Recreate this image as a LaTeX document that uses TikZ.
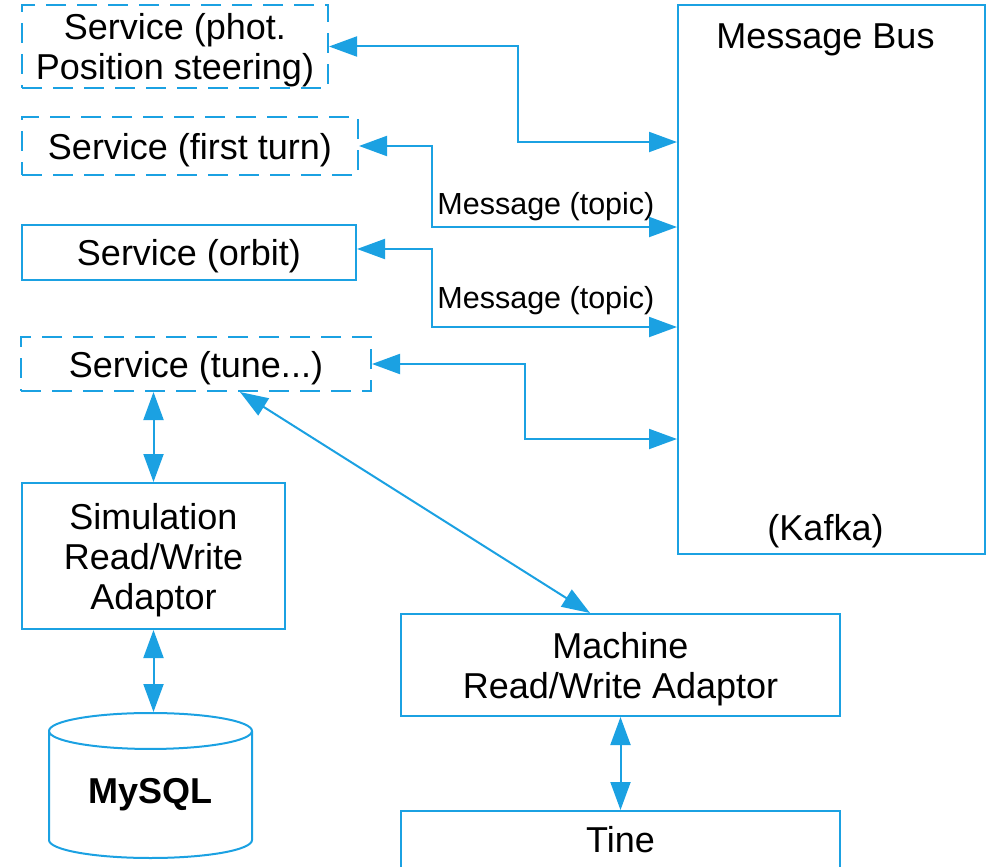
\documentclass[tikz,border=0pt]{standalone}
\usepackage{fontspec}
\setmainfont{Liberation Sans}
\usetikzlibrary{positioning, shapes.geometric, arrows.meta}
\definecolor{linkblue}{RGB}{27,161,226}

\begin{document}
\begin{tikzpicture}[
        x=1pt, y=-1pt,
        service/.style={rectangle, draw=linkblue, line width=2pt, dash pattern=on 20pt off 11pt, inner sep=0pt, align=center, font=\fontsize{36}{40}\selectfont, execute at begin node={\rule{0pt}{34pt}}},
        block/.style={rectangle, draw=linkblue, line width=2pt, inner sep=0pt, align=center, font=\fontsize{36}{40}\selectfont, execute at begin node={\rule{0pt}{34pt}}},
        multi/.style={text depth=0pt},
        store/.style={cylinder, shape border rotate=90, aspect=0.29, draw=linkblue, line width=2pt, inner sep=0pt, font=\fontsize{36}{40}\selectfont\bfseries},
        caption/.style={inner sep=0pt, font=\fontsize{36}{40}\selectfont},
        topic/.style={inner sep=0pt, font=\fontsize{30.5}{36}\selectfont},
        link/.style={<->, >={Triangle[length=28pt, width=20pt]}, line width=2pt, draw=linkblue}
    ]
    \useasboundingbox (0,0) rectangle (994,867);
    \clip (0,0) rectangle (994,867);

    % Services (left column)
    \node[service, multi, minimum width=306pt, minimum height=83pt] (phot) at (175,46.5) {Service (phot.\\Position steering)};
    \node[service, minimum width=336pt, minimum height=58pt] (firstturn) at (190,146) {Service (first turn)};
    \node[block, minimum width=334pt, minimum height=55pt] (orbit) at (189,252.5) {Service (orbit)};
    \node[service, minimum width=350pt, minimum height=54pt] (tune) at (196,364) {Service (tune...)};

    % Adaptors and storage
    \node[block, multi, minimum width=263pt, minimum height=146pt] (sim) at (153.5,556) {Simulation\\Read/Write\\Adaptor};
    \node[store, anchor=shape center, minimum width=203pt, minimum height=145pt] (db) at (150.5,785.5) {MySQL};
    \node[block, multi, minimum width=439pt, minimum height=102pt] (machine) at (620.5,665) {Machine\\Read/Write Adaptor};
    \node[block, anchor=north, minimum width=439pt, text height=41pt, text depth=60pt] (tine) at (620.5,810) {Tine};

    % Message bus (right side)
    \node[block, minimum width=307pt, minimum height=549pt] (bus) at (831.5,279.5) {};
    \node[caption, below=20pt of bus.north, xshift=-6pt] (busname) {Message Bus};
    \node[caption, above=6.5pt of bus.south, xshift=-6pt] (kafka) {(Kafka)};

    % Services <-> message bus
    \draw[link] (phot.east) -| (518,142) -- (bus.west |- 0,142);
    \draw[link] (firstturn.east) -| (432,227) -- node[topic, pos=0.465, above=5pt] (topicone) {Message (topic)} (bus.west |- 0,227);
    \draw[link] ([yshift=3.5pt]orbit.east) -| (432,327) -- node[topic, pos=0.465, above=11.5pt] (topictwo) {Message (topic)} (bus.west |- 0,327);
    \draw[link] (tune.east) -| (525,439) -- (bus.west |- 0,439);

    % Service <-> adaptors
    \draw[link] (tune.south -| sim.north) -- (sim.north);
    \draw[link] ([xshift=44pt]tune.south) -- ([xshift=-30.5pt]machine.north);
    \draw[link] (sim.south) -- (sim.south |- db.top);
    \draw[link] (machine.south) -- (tine.north);

\end{tikzpicture}
\end{document}
